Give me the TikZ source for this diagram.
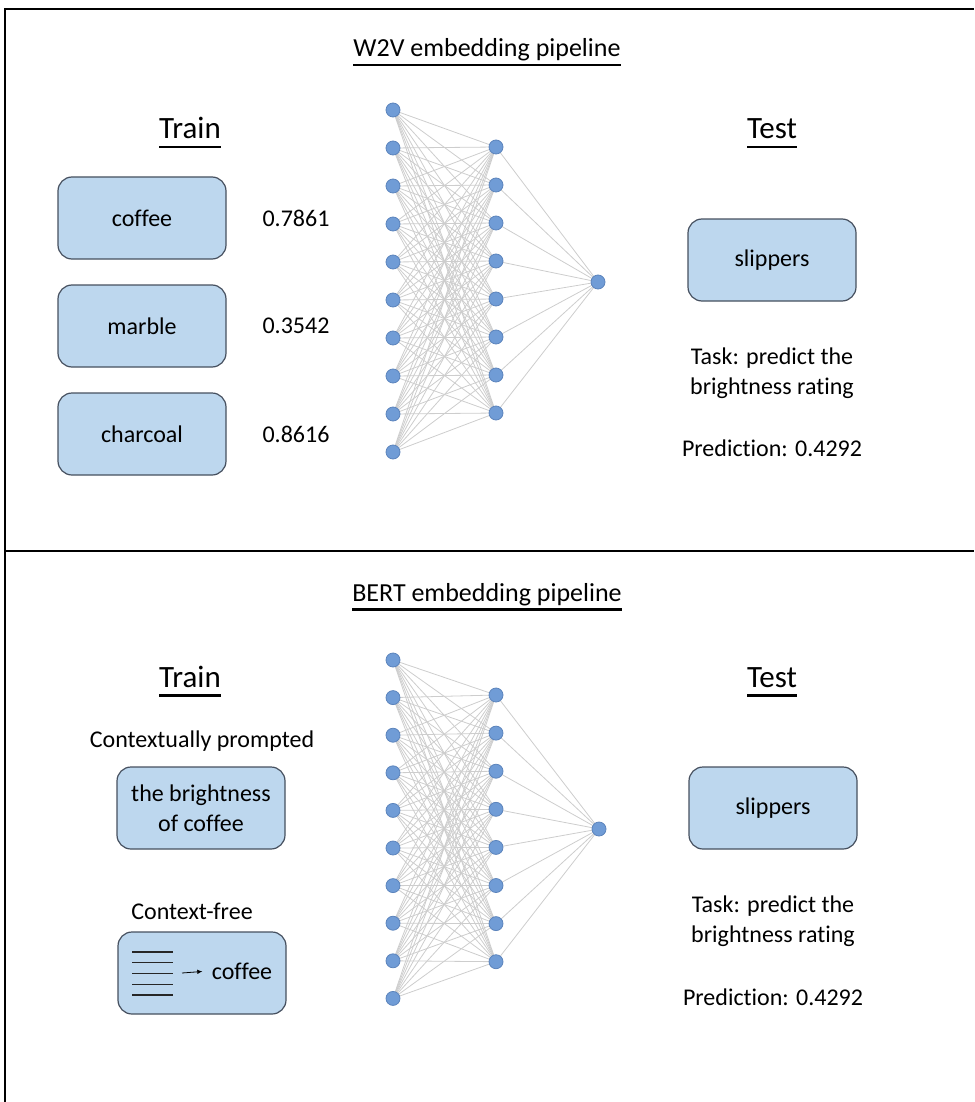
\documentclass[tikz,border=0pt]{standalone}
\usepackage{fontspec}
\setmainfont{Carlito}[Ligatures=NoCommon]
\usetikzlibrary{calc, backgrounds, arrows.meta}

% underlined heading: text plus a thick rule under it
\newcommand{\ulword}[1]{\leavevmode\setbox0=\hbox{#1}\rlap{\copy0}\rule[-9.5pt]{\wd0}{2.4pt}}

\definecolor{boxblue}{RGB}{189,215,238}
\definecolor{boxline}{RGB}{70,80,95}
\definecolor{neuron}{RGB}{112,156,214}
\definecolor{neuronline}{RGB}{92,132,188}
\definecolor{synapse}{RGB}{205,205,205}

\tikzset{
    wordbox/.style={fill=boxblue, draw=boxline, line width=1.2pt, rounded corners=14pt, minimum width=168pt, minimum height=82pt, align=center, font=\fontsize{24}{30}\selectfont},
    neuronnode/.style={circle, fill=neuron, draw=neuronline, line width=0.8pt, minimum size=14pt, inner sep=0pt},
    synapseline/.style={draw=synapse, line width=0.8pt},
    bodytext/.style={align=center, font=\fontsize{24}{30}\selectfont},
    headtext/.style={anchor=base, font=\fontsize{31}{36}\selectfont},
    titletext/.style={anchor=base, font=\fontsize{26}{32}\selectfont},
    frameline/.style={line width=1.5pt}
}

\begin{document}
\begin{tikzpicture}[x=1pt, y=-1pt]
    \useasboundingbox (0,0) rectangle (974,1102);

    % outer frame and divider
    \draw[frameline] (5,1102) -- (5,9) -- (974,9);
    \draw[frameline] (5,551) -- (974,551);

    %%%%%%%%%%%%%%%%%%%
    % W2V block
    \node (W2V-Title) at (487,57) [titletext]{\ulword{W2V embedding pipeline}};
    \node (W2V-Train) at (190,139) [headtext]{\ulword{Train}};
    \node (W2V-Test) at (772,139) [headtext]{\ulword{Test}};

    % training words
    \node (CoffeeBox) at (142,218) [wordbox]{coffee};
    \node (MarbleBox) at ($(CoffeeBox) + (0,108)$) [wordbox]{marble};
    \node (CharcoalBox) at ($(MarbleBox) + (0,108)$) [wordbox]{charcoal};

    \node (CoffeeRating) at ($(CoffeeBox) + (154,0)$) [bodytext]{0.7861};
    \node (MarbleRating) at ($(MarbleBox) + (154,0)$) [bodytext]{0.3542};
    \node (CharcoalRating) at ($(CharcoalBox) + (154,0)$) [bodytext]{0.8616};

    % network
    \foreach \i in {1,...,10}
        \node (W2V-In\i) at (393,{110+38*(\i-1)}) [neuronnode]{};
    \foreach \j in {1,...,8}
        \node (W2V-Hid\j) at (496,{147+38*(\j-1)}) [neuronnode]{};
    \node (W2V-Out) at (598,282) [neuronnode]{};

    \begin{pgfonlayer}{background}
        \foreach \i in {1,...,10}
            \foreach \j in {1,...,8}
                \draw[synapseline] (W2V-In\i.center) -- (W2V-Hid\j.center);
        \foreach \j in {1,...,8}
            \draw[synapseline] (W2V-Hid\j.center) -- (W2V-Out.center);
    \end{pgfonlayer}

    % test word
    \node (W2V-Slippers) at (772,260) [wordbox]{slippers};
    \node (W2V-Task) at ($(W2V-Slippers) + (0,113)$) [bodytext]{Task: predict the\\brightness rating};
    \node (W2V-Prediction) at ($(W2V-Slippers) + (0,188)$) [bodytext]{Prediction: 0.4292};

    %%%%%%%%%%%%%%%%%%%
    % BERT block
    \node (BERT-Title) at (487,601) [titletext]{\ulword{BERT embedding pipeline}};
    \node (BERT-Train) at (190,687) [headtext]{\ulword{Train}};
    \node (BERT-Test) at (772,687) [headtext]{\ulword{Test}};

    % prompted input
    \node (PromptedText) at (202,741) [bodytext]{Contextually prompted};
    \node (PromptedBox) at (201,808) [wordbox]{the brightness\\of coffee};

    % context-free input
    \node (FreeText) at (192,911) [bodytext]{Context-free};
    \node (FreeBox) at (202,973) [wordbox]{};
    \foreach \k in {0,...,4}
        \draw[line width=1.2pt, black!85] ($(FreeBox.center) + (-70,{-21+10.75*\k})$) -- ++(41,0);
    \coordinate (FreeLines) at ($(FreeBox.center) + (-20,0)$);
    \node (FreeCoffee) at ($(FreeBox.center) + (40,-2)$) [bodytext]{coffee};
    \draw[-{Latex[length=5pt,width=4.5pt]}, line width=0.8pt, shorten >=6pt] (FreeLines) -- (FreeCoffee.west);

    % network
    \foreach \i in {1,...,10}
        \node (BERT-In\i) at (393,{660+37.6*(\i-1)}) [neuronnode]{};
    \foreach \j in {1,...,8}
        \node (BERT-Hid\j) at (496,{695+38.1*(\j-1)}) [neuronnode]{};
    \node (BERT-Out) at (599,829) [neuronnode]{};

    \begin{pgfonlayer}{background}
        \foreach \i in {1,...,10}
            \foreach \j in {1,...,8}
                \draw[synapseline] (BERT-In\i.center) -- (BERT-Hid\j.center);
        \foreach \j in {1,...,8}
            \draw[synapseline] (BERT-Hid\j.center) -- (BERT-Out.center);
    \end{pgfonlayer}

    % test word
    \node (BERT-Slippers) at (773,808) [wordbox]{slippers};
    \node (BERT-Task) at ($(BERT-Slippers) + (0,113)$) [bodytext]{Task: predict the\\brightness rating};
    \node (BERT-Prediction) at ($(BERT-Slippers) + (0,189)$) [bodytext]{Prediction: 0.4292};
\end{tikzpicture}
\end{document}
